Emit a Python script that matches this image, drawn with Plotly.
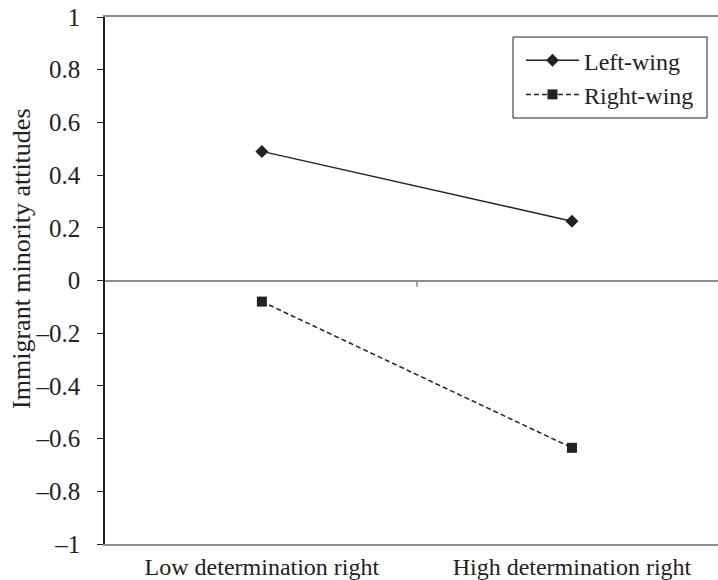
import plotly.graph_objects as go

categories = ["Low determination right", "High determination right"]
left_wing = [0.49, 0.225]
right_wing = [-0.08, -0.635]
ytick_vals = [1, 0.8, 0.6, 0.4, 0.2, 0, -0.2, -0.4, -0.6, -0.8, -1]
ytick_text = ["1", "0.8", "0.6", "0.4", "0.2", "0", "–0.2", "–0.4", "–0.6", "–0.8", "–1"]
y_title = "Immigrant minority attitudes"

FONT = "Liberation Serif, Times New Roman, serif"
DARK = "#222222"
GRAY = "#8c8c8c"

fig = go.Figure()
fig.add_trace(go.Scatter(
    x=categories, y=left_wing, name="Left-wing", mode="lines+markers",
    line=dict(color=DARK, width=1.5),
    marker=dict(symbol="diamond", size=10, color=DARK),
))
fig.add_trace(go.Scatter(
    x=categories, y=right_wing, name="Right-wing", mode="lines+markers",
    line=dict(color=DARK, width=1.5, dash="5px,3px"),
    marker=dict(symbol="square", size=10, color=DARK),
))

# tick mark on the zero line between categories
fig.add_shape(type="line", x0=0.5, x1=0.5, y0=0, y1=-0.025,
              xref="x", yref="y", line=dict(color=GRAY, width=1.5))
# legend frame
fig.add_shape(type="rect", xref="paper", yref="paper",
              x0=0.6656, x1=0.9821, y0=0.8083, y1=0.962,
              line=dict(color=DARK, width=1), fillcolor="white", layer="below")

fig.add_annotation(text=y_title, xref="paper", yref="paper",
                   x=-0.1354, y=0.541, xanchor="center", yanchor="middle",
                   textangle=-90, showarrow=False,
                   font=dict(family=FONT, size=26, color=DARK))

fig.update_layout(
    width=718, height=580,
    margin=dict(l=105, r=0, t=17, b=36),
    paper_bgcolor="white", plot_bgcolor="white",
    font=dict(family=FONT, size=24, color=DARK),
    showlegend=True,
    legend=dict(
        x=0.6786, y=0.96, xanchor="left", yanchor="top",
        borderwidth=0, bgcolor="rgba(0,0,0,0)",
        font=dict(family=FONT, size=24, color=DARK),
        itemwidth=53,
    ),
    xaxis=dict(
        type="category", range=[-0.506, 1.471],
        showline=True, linecolor=GRAY, linewidth=1.5, mirror=True,
        ticks="", showgrid=False, zeroline=False,
        tickfont=dict(family=FONT, size=24, color=DARK),
    ),
    yaxis=dict(
        range=[-1, 1], tickvals=ytick_vals, ticktext=ytick_text,
        showline=True, linecolor=DARK, linewidth=1.5,
        ticks="outside", ticklen=6, tickcolor=DARK, tickwidth=1,
        ticklabelstandoff=12,
        showgrid=False, zeroline=True, zerolinecolor=GRAY, zerolinewidth=1.5,
        tickfont=dict(family=FONT, size=25, color=DARK),
    ),
)

fig.write_html("out.html", config={"displayModeBar": False},
               post_script="document.body.style.margin='0';")
